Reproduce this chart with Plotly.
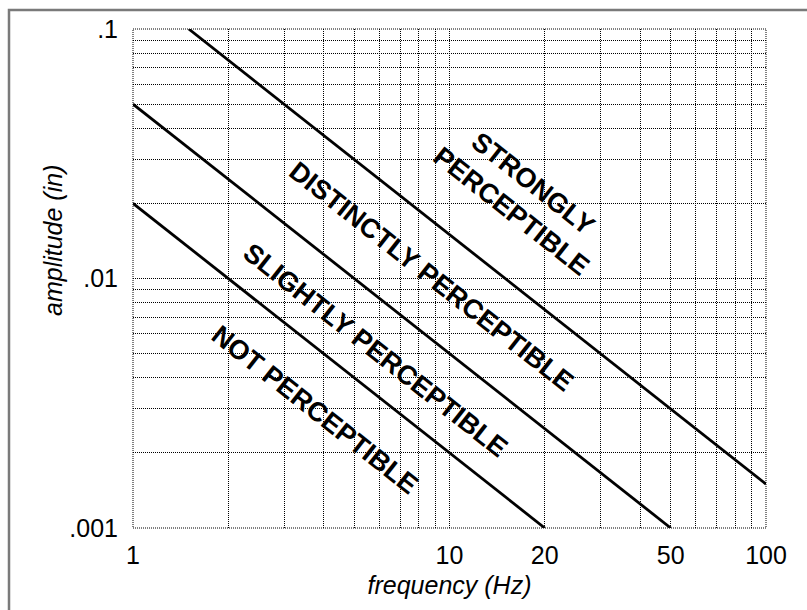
import plotly.graph_objects as go
import math

# Boundary lines (frequency Hz, amplitude in)
not_perc_f = [1, 20]
not_perc_a = [0.02, 0.001]
slight_f = [1, 50]
slight_a = [0.05, 0.001]
distinct_f = [1.5, 100]
distinct_a = [0.1, 0.0015]

# Region labels and their (frequency, amplitude) anchor points
label_texts = ["STRONGLY<br>PERCEPTIBLE", "DISTINCTLY PERCEPTIBLE",
               "SLIGHTLY PERCEPTIBLE", "NOT PERCEPTIBLE"]
label_f = [17.0, 8.8, 5.82, 3.76]
label_a = [0.0212, 0.01015, 0.00517, 0.00297]

# Ticks
x_gridvals = list(range(1, 10)) + list(range(10, 101, 10))
x_labels = {1: "1", 10: "10", 20: "20", 50: "50", 100: "100"}
y_gridvals = [i / 1000 for i in range(1, 10)] + [i / 100 for i in range(1, 10)] + [0.1]
y_labels = {0.001: ".001", 0.01: ".01", 0.1: ".1"}

fig = go.Figure()
for fx, ay in [(not_perc_f, not_perc_a), (slight_f, slight_a), (distinct_f, distinct_a)]:
    fig.add_trace(go.Scatter(x=fx, y=ay, mode="lines",
                             line=dict(color="black", width=2.8),
                             showlegend=False, hoverinfo="skip"))

for t, fx, ay in zip(label_texts, label_f, label_a):
    fig.add_annotation(x=math.log10(fx), y=math.log10(ay), text="<b>" + t + "</b>",
                       showarrow=False, textangle=38.2,
                       font=dict(family="Liberation Sans, Arial", size=27, color="black"))

font = dict(family="Liberation Sans, Arial", size=25, color="black")
dots = "1px,1px"
fig.update_xaxes(type="log", range=[0, 2],
                 tickvals=x_gridvals,
                 ticktext=[x_labels.get(v, "") for v in x_gridvals],
                 showgrid=True, gridcolor="black", griddash=dots, gridwidth=1,
                 zeroline=False, showline=False, ticks="",
                 tickfont=font, ticklabelstandoff=10,
                 title=dict(text="<i>frequency (Hz)</i>", font=font, standoff=8))
fig.update_yaxes(type="log", range=[-3, -1],
                 tickvals=y_gridvals,
                 ticktext=[y_labels.get(v, "") for v in y_gridvals],
                 showgrid=True, gridcolor="black", griddash=dots, gridwidth=1,
                 zeroline=False, showline=False, ticks="",
                 tickfont=font, ticklabelstandoff=14)

# y-axis title (placed slightly above plot centre as in the original)
fig.add_annotation(xref="paper", yref="paper", x=(37 - 133) / 633, y=1 - (240 - 29) / 499,
                   text="<i>amplitude (in)</i>", textangle=-90, showarrow=False,
                   font=font)

# dotted plot border
fig.add_shape(type="rect", xref="paper", yref="paper", x0=0, x1=1, y0=0, y1=1,
              line=dict(color="black", width=1, dash=dots), layer="below")
# grey outer frame
fig.add_shape(type="rect", xref="paper", yref="paper", x0=(9 - 133) / 633, x1=2,
              y0=-2, y1=1 + 19 / 499,
              line=dict(color="#7a7a7a", width=2.5))

fig.update_layout(width=807, height=610,
                  margin=dict(l=133, r=41, t=29, b=82),
                  paper_bgcolor="white", plot_bgcolor="white",
                  font=font)
fig.write_html("out.html")
